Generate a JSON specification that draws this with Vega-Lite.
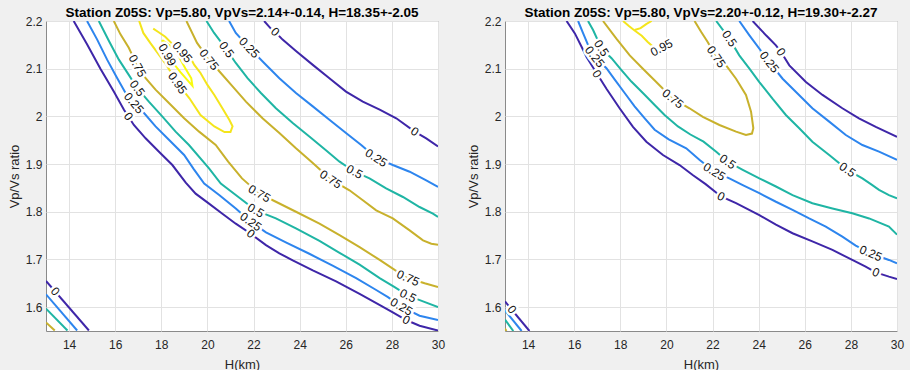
{
  "$schema": "https://vega.github.io/schema/vega-lite/v6.json",
  "background": "#f0f0f0",
  "padding": {"left": 7, "top": 5, "right": 10, "bottom": 0},
  "spacing": 20,
  "config": {
    "font": "Liberation Sans",
    "view": {"stroke": "#8a8a8a", "fill": "white"},
    "axis": {"grid": true, "gridColor": "#e2e2e2", "gridWidth": 1, "domain": false, "ticks": false, "tickSize": 0, "labelFlush": false, "labelFontSize": 12, "labelColor": "#262626", "titleFontSize": 13, "titleFontWeight": "normal", "titleColor": "#262626", "labelFont": "Liberation Sans", "titleFont": "Liberation Sans"},
    "axisX": {"labelPadding": 8, "titlePadding": 8},
    "axisY": {"labelPadding": 4, "titlePadding": 4},
    "title": {"fontSize": 13.5, "fontWeight": "bold", "color": "#000000", "frame": "group", "offset": -4, "font": "Liberation Sans"}
  },
  "datasets": {
    "left": [
      {"s":"a0","l":"0","o":0,"H":14.20,"v":2.200},{"s":"a0","l":"0","o":1,"H":14.78,"v":2.151},{"s":"a0","l":"0","o":2,"H":15.36,"v":2.100},{"s":"a0","l":"0","o":3,"H":15.94,"v":2.052},{"s":"a0","l":"0","o":4,"H":16.38,"v":2.014},{"s":"a0","l":"0","o":5,"H":16.81,"v":1.982},{"s":"a0","l":"0","o":6,"H":17.32,"v":1.954},{"s":"a0","l":"0","o":7,"H":17.90,"v":1.926},{"s":"a0","l":"0","o":8,"H":18.48,"v":1.898},{"s":"a0","l":"0","o":9,"H":19.06,"v":1.861},{"s":"a0","l":"0","o":10,"H":19.49,"v":1.838},{"s":"a0","l":"0","o":11,"H":20.07,"v":1.817},{"s":"a0","l":"0","o":12,"H":20.65,"v":1.796},{"s":"a0","l":"0","o":13,"H":21.23,"v":1.775},{"s":"a0","l":"0","o":14,"H":21.88,"v":1.754},{"s":"a0","l":"0","o":15,"H":22.54,"v":1.730},{"s":"a0","l":"0","o":16,"H":23.12,"v":1.713},{"s":"a0","l":"0","o":17,"H":23.70,"v":1.698},{"s":"a0","l":"0","o":18,"H":24.57,"v":1.677},{"s":"a0","l":"0","o":19,"H":25.58,"v":1.654},{"s":"a0","l":"0","o":20,"H":26.60,"v":1.628},{"s":"a0","l":"0","o":21,"H":27.46,"v":1.605},{"s":"a0","l":"0","o":22,"H":28.04,"v":1.589},{"s":"a0","l":"0","o":23,"H":28.62,"v":1.573},{"s":"a0","l":"0","o":24,"H":29.20,"v":1.561},{"s":"a0","l":"0","o":25,"H":30.00,"v":1.551},
      {"s":"a25","l":"0.25","o":0,"H":14.78,"v":2.200},{"s":"a25","l":"0.25","o":1,"H":15.22,"v":2.161},{"s":"a25","l":"0.25","o":2,"H":15.65,"v":2.119},{"s":"a25","l":"0.25","o":3,"H":16.09,"v":2.080},{"s":"a25","l":"0.25","o":4,"H":16.45,"v":2.049},{"s":"a25","l":"0.25","o":5,"H":16.81,"v":2.028},{"s":"a25","l":"0.25","o":6,"H":17.25,"v":2.007},{"s":"a25","l":"0.25","o":7,"H":17.75,"v":1.979},{"s":"a25","l":"0.25","o":8,"H":18.33,"v":1.951},{"s":"a25","l":"0.25","o":9,"H":18.99,"v":1.919},{"s":"a25","l":"0.25","o":10,"H":19.40,"v":1.890},{"s":"a25","l":"0.25","o":11,"H":19.86,"v":1.859},{"s":"a25","l":"0.25","o":12,"H":20.51,"v":1.835},{"s":"a25","l":"0.25","o":13,"H":21.23,"v":1.807},{"s":"a25","l":"0.25","o":14,"H":21.88,"v":1.779},{"s":"a25","l":"0.25","o":15,"H":22.54,"v":1.757},{"s":"a25","l":"0.25","o":16,"H":23.40,"v":1.736},{"s":"a25","l":"0.25","o":17,"H":24.42,"v":1.712},{"s":"a25","l":"0.25","o":18,"H":25.43,"v":1.687},{"s":"a25","l":"0.25","o":19,"H":26.45,"v":1.661},{"s":"a25","l":"0.25","o":20,"H":27.32,"v":1.636},{"s":"a25","l":"0.25","o":21,"H":27.83,"v":1.621},{"s":"a25","l":"0.25","o":22,"H":28.41,"v":1.601},{"s":"a25","l":"0.25","o":23,"H":29.20,"v":1.582},{"s":"a25","l":"0.25","o":24,"H":30.00,"v":1.573},
      {"s":"a50","l":"0.5","o":0,"H":15.29,"v":2.200},{"s":"a50","l":"0.5","o":1,"H":15.73,"v":2.158},{"s":"a50","l":"0.5","o":2,"H":16.16,"v":2.119},{"s":"a50","l":"0.5","o":3,"H":16.59,"v":2.087},{"s":"a50","l":"0.5","o":4,"H":16.96,"v":2.059},{"s":"a50","l":"0.5","o":5,"H":17.46,"v":2.031},{"s":"a50","l":"0.5","o":6,"H":18.04,"v":2.000},{"s":"a50","l":"0.5","o":7,"H":18.62,"v":1.968},{"s":"a50","l":"0.5","o":8,"H":19.20,"v":1.940},{"s":"a50","l":"0.5","o":9,"H":20.07,"v":1.891},{"s":"a50","l":"0.5","o":10,"H":20.58,"v":1.859},{"s":"a50","l":"0.5","o":11,"H":21.23,"v":1.835},{"s":"a50","l":"0.5","o":12,"H":22.10,"v":1.803},{"s":"a50","l":"0.5","o":13,"H":22.97,"v":1.786},{"s":"a50","l":"0.5","o":14,"H":23.84,"v":1.765},{"s":"a50","l":"0.5","o":15,"H":24.86,"v":1.739},{"s":"a50","l":"0.5","o":16,"H":25.73,"v":1.714},{"s":"a50","l":"0.5","o":17,"H":26.60,"v":1.689},{"s":"a50","l":"0.5","o":18,"H":27.47,"v":1.661},{"s":"a50","l":"0.5","o":19,"H":28.12,"v":1.642},{"s":"a50","l":"0.5","o":20,"H":28.70,"v":1.624},{"s":"a50","l":"0.5","o":21,"H":29.35,"v":1.612},{"s":"a50","l":"0.5","o":22,"H":30.00,"v":1.600},
      {"s":"a75","l":"0.75","o":0,"H":15.94,"v":2.200},{"s":"a75","l":"0.75","o":1,"H":16.23,"v":2.172},{"s":"a75","l":"0.75","o":2,"H":16.59,"v":2.144},{"s":"a75","l":"0.75","o":3,"H":16.96,"v":2.106},{"s":"a75","l":"0.75","o":4,"H":17.32,"v":2.080},{"s":"a75","l":"0.75","o":5,"H":17.75,"v":2.056},{"s":"a75","l":"0.75","o":6,"H":18.33,"v":2.028},{"s":"a75","l":"0.75","o":7,"H":18.99,"v":1.996},{"s":"a75","l":"0.75","o":8,"H":19.64,"v":1.968},{"s":"a75","l":"0.75","o":9,"H":20.36,"v":1.940},{"s":"a75","l":"0.75","o":10,"H":20.90,"v":1.905},{"s":"a75","l":"0.75","o":11,"H":21.50,"v":1.870},{"s":"a75","l":"0.75","o":12,"H":22.25,"v":1.838},{"s":"a75","l":"0.75","o":13,"H":22.97,"v":1.821},{"s":"a75","l":"0.75","o":14,"H":23.84,"v":1.800},{"s":"a75","l":"0.75","o":15,"H":24.86,"v":1.775},{"s":"a75","l":"0.75","o":16,"H":25.73,"v":1.751},{"s":"a75","l":"0.75","o":17,"H":26.60,"v":1.726},{"s":"a75","l":"0.75","o":18,"H":27.47,"v":1.699},{"s":"a75","l":"0.75","o":19,"H":28.12,"v":1.678},{"s":"a75","l":"0.75","o":20,"H":28.70,"v":1.661},{"s":"a75","l":"0.75","o":21,"H":29.42,"v":1.650},{"s":"a75","l":"0.75","o":22,"H":30.00,"v":1.642},
      {"s":"b75","l":"0.75","o":0,"H":19.09,"v":2.200},{"s":"b75","l":"0.75","o":1,"H":19.55,"v":2.154},{"s":"b75","l":"0.75","o":2,"H":20.07,"v":2.119},{"s":"b75","l":"0.75","o":3,"H":20.58,"v":2.091},{"s":"b75","l":"0.75","o":4,"H":21.09,"v":2.063},{"s":"b75","l":"0.75","o":5,"H":21.67,"v":2.031},{"s":"b75","l":"0.75","o":6,"H":22.39,"v":1.996},{"s":"b75","l":"0.75","o":7,"H":23.12,"v":1.965},{"s":"b75","l":"0.75","o":8,"H":23.84,"v":1.933},{"s":"b75","l":"0.75","o":9,"H":24.57,"v":1.902},{"s":"b75","l":"0.75","o":10,"H":25.35,"v":1.868},{"s":"b75","l":"0.75","o":11,"H":26.16,"v":1.845},{"s":"b75","l":"0.75","o":12,"H":26.74,"v":1.824},{"s":"b75","l":"0.75","o":13,"H":27.32,"v":1.803},{"s":"b75","l":"0.75","o":14,"H":28.04,"v":1.786},{"s":"b75","l":"0.75","o":15,"H":28.77,"v":1.761},{"s":"b75","l":"0.75","o":16,"H":29.35,"v":1.740},{"s":"b75","l":"0.75","o":17,"H":29.71,"v":1.733},{"s":"b75","l":"0.75","o":18,"H":30.00,"v":1.731},
      {"s":"b50","l":"0.5","o":0,"H":19.96,"v":2.200},{"s":"b50","l":"0.5","o":1,"H":20.29,"v":2.175},{"s":"b50","l":"0.5","o":2,"H":20.51,"v":2.161},{"s":"b50","l":"0.5","o":3,"H":20.83,"v":2.140},{"s":"b50","l":"0.5","o":4,"H":21.23,"v":2.112},{"s":"b50","l":"0.5","o":5,"H":21.74,"v":2.080},{"s":"b50","l":"0.5","o":6,"H":22.32,"v":2.049},{"s":"b50","l":"0.5","o":7,"H":22.97,"v":2.017},{"s":"b50","l":"0.5","o":8,"H":23.70,"v":1.986},{"s":"b50","l":"0.5","o":9,"H":24.42,"v":1.958},{"s":"b50","l":"0.5","o":10,"H":25.14,"v":1.929},{"s":"b50","l":"0.5","o":11,"H":25.73,"v":1.905},{"s":"b50","l":"0.5","o":12,"H":26.38,"v":1.884},{"s":"b50","l":"0.5","o":13,"H":27.03,"v":1.870},{"s":"b50","l":"0.5","o":14,"H":27.75,"v":1.849},{"s":"b50","l":"0.5","o":15,"H":28.48,"v":1.831},{"s":"b50","l":"0.5","o":16,"H":29.20,"v":1.810},{"s":"b50","l":"0.5","o":17,"H":29.78,"v":1.796},{"s":"b50","l":"0.5","o":18,"H":30.00,"v":1.789},
      {"s":"b25","l":"0.25","o":0,"H":20.94,"v":2.200},{"s":"b25","l":"0.25","o":1,"H":21.23,"v":2.175},{"s":"b25","l":"0.25","o":2,"H":21.81,"v":2.144},{"s":"b25","l":"0.25","o":3,"H":22.46,"v":2.112},{"s":"b25","l":"0.25","o":4,"H":23.12,"v":2.080},{"s":"b25","l":"0.25","o":5,"H":23.84,"v":2.049},{"s":"b25","l":"0.25","o":6,"H":24.57,"v":2.021},{"s":"b25","l":"0.25","o":7,"H":25.29,"v":1.993},{"s":"b25","l":"0.25","o":8,"H":26.01,"v":1.965},{"s":"b25","l":"0.25","o":9,"H":26.67,"v":1.940},{"s":"b25","l":"0.25","o":10,"H":27.32,"v":1.913},{"s":"b25","l":"0.25","o":11,"H":28.04,"v":1.898},{"s":"b25","l":"0.25","o":12,"H":28.77,"v":1.884},{"s":"b25","l":"0.25","o":13,"H":29.49,"v":1.866},{"s":"b25","l":"0.25","o":14,"H":30.00,"v":1.852},
      {"s":"b0","l":"0","o":0,"H":22.46,"v":2.200},{"s":"b0","l":"0","o":1,"H":22.75,"v":2.184},{"s":"b0","l":"0","o":2,"H":22.94,"v":2.177},{"s":"b0","l":"0","o":3,"H":23.26,"v":2.161},{"s":"b0","l":"0","o":4,"H":23.84,"v":2.137},{"s":"b0","l":"0","o":5,"H":24.57,"v":2.108},{"s":"b0","l":"0","o":6,"H":25.29,"v":2.080},{"s":"b0","l":"0","o":7,"H":26.01,"v":2.052},{"s":"b0","l":"0","o":8,"H":26.74,"v":2.031},{"s":"b0","l":"0","o":9,"H":27.47,"v":2.014},{"s":"b0","l":"0","o":10,"H":28.19,"v":1.996},{"s":"b0","l":"0","o":11,"H":28.99,"v":1.968},{"s":"b0","l":"0","o":12,"H":29.49,"v":1.954},{"s":"b0","l":"0","o":13,"H":30.00,"v":1.937},
      {"s":"c0","l":"0","o":0,"H":13.00,"v":1.655},{"s":"c0","l":"0","o":1,"H":14.86,"v":1.551},
      {"s":"c25","l":"0.25","o":0,"H":13.00,"v":1.627},{"s":"c25","l":"0.25","o":1,"H":14.35,"v":1.551},
      {"s":"c50","l":"0.5","o":0,"H":13.00,"v":1.597},{"s":"c50","l":"0.5","o":1,"H":13.93,"v":1.551},
      {"s":"c75","l":"0.75","o":0,"H":13.00,"v":1.568},{"s":"c75","l":"0.75","o":1,"H":13.38,"v":1.551},
      {"s":"y95","l":"0.95","o":0,"H":17.04,"v":2.200},{"s":"y95","l":"0.95","o":1,"H":17.22,"v":2.175},{"s":"y95","l":"0.95","o":2,"H":17.52,"v":2.154},{"s":"y95","l":"0.95","o":3,"H":17.87,"v":2.131},{"s":"y95","l":"0.95","o":4,"H":18.22,"v":2.108},{"s":"y95","l":"0.95","o":5,"H":18.70,"v":2.070},{"s":"y95","l":"0.95","o":6,"H":19.22,"v":2.038},{"s":"y95","l":"0.95","o":7,"H":19.70,"v":2.003},{"s":"y95","l":"0.95","o":8,"H":20.30,"v":1.979},{"s":"y95","l":"0.95","o":9,"H":20.74,"v":1.967},{"s":"y95","l":"0.95","o":10,"H":21.00,"v":1.967},{"s":"y95","l":"0.95","o":11,"H":21.09,"v":1.979},{"s":"y95","l":"0.95","o":12,"H":20.96,"v":1.992},{"s":"y95","l":"0.95","o":13,"H":20.65,"v":2.017},{"s":"y95","l":"0.95","o":14,"H":20.30,"v":2.045},{"s":"y95","l":"0.95","o":15,"H":20.00,"v":2.066},{"s":"y95","l":"0.95","o":16,"H":19.70,"v":2.091},{"s":"y95","l":"0.95","o":17,"H":19.43,"v":2.108},{"s":"y95","l":"0.95","o":18,"H":19.26,"v":2.123},{"s":"y95","l":"0.95","o":19,"H":18.91,"v":2.135},{"s":"y95","l":"0.95","o":20,"H":18.52,"v":2.150},{"s":"y95","l":"0.95","o":21,"H":18.17,"v":2.167},{"s":"y95","l":"0.95","o":22,"H":17.87,"v":2.177},{"s":"y95","l":"0.95","o":23,"H":17.65,"v":2.184},
      {"s":"y99","l":"0.99","o":0,"H":18.04,"v":2.160},{"s":"y99","l":"0.99","o":1,"H":18.17,"v":2.139},{"s":"y99","l":"0.99","o":2,"H":18.48,"v":2.114},{"s":"y99","l":"0.99","o":3,"H":18.83,"v":2.093},{"s":"y99","l":"0.99","o":4,"H":19.17,"v":2.074},{"s":"y99","l":"0.99","o":5,"H":19.35,"v":2.064},{"s":"y99","l":"0.99","o":6,"H":19.30,"v":2.080},{"s":"y99","l":"0.99","o":7,"H":19.04,"v":2.101},{"s":"y99","l":"0.99","o":8,"H":18.74,"v":2.127},{"s":"y99","l":"0.99","o":9,"H":18.39,"v":2.148},{"s":"y99","l":"0.99","o":10,"H":18.04,"v":2.160}
    ],
    "leftLab": [
      {"t":"0.75","H":16.96,"v":2.106,"a":61},{"t":"0.5","H":16.96,"v":2.059,"a":53},{"t":"0.25","H":16.81,"v":2.028,"a":50},{"t":"0","H":16.57,"v":2.000,"a":55},
      {"t":"0.99","H":18.26,"v":2.129,"a":60},{"t":"0.95","H":18.70,"v":2.070,"a":55},{"t":"0.95","H":18.91,"v":2.135,"a":50},
      {"t":"0.75","H":20.07,"v":2.119,"a":52},{"t":"0.5","H":20.83,"v":2.140,"a":54},{"t":"0.25","H":21.81,"v":2.144,"a":47},{"t":"0","H":22.94,"v":2.177,"a":43},
      {"t":"0.75","H":25.35,"v":1.868,"a":33},{"t":"0.5","H":26.38,"v":1.884,"a":29},{"t":"0.25","H":27.32,"v":1.913,"a":32},{"t":"0","H":28.99,"v":1.968,"a":34},
      {"t":"0.75","H":22.25,"v":1.838,"a":30},{"t":"0.5","H":22.10,"v":1.803,"a":30},{"t":"0.25","H":21.88,"v":1.779,"a":35},{"t":"0","H":21.88,"v":1.754,"a":38},
      {"t":"0.75","H":28.70,"v":1.661,"a":24},{"t":"0.5","H":28.70,"v":1.624,"a":26},{"t":"0.25","H":28.41,"v":1.601,"a":30},{"t":"0","H":28.62,"v":1.573,"a":27},
      {"t":"0","H":13.40,"v":1.633,"a":49}
    ],
    "right": [
      {"s":"a0","l":"0","o":0,"H":15.67,"v":2.200},{"s":"a0","l":"0","o":1,"H":16.03,"v":2.174},{"s":"a0","l":"0","o":2,"H":16.32,"v":2.146},{"s":"a0","l":"0","o":3,"H":16.53,"v":2.125},{"s":"a0","l":"0","o":4,"H":16.97,"v":2.091},{"s":"a0","l":"0","o":5,"H":17.40,"v":2.058},{"s":"a0","l":"0","o":6,"H":17.97,"v":2.017},{"s":"a0","l":"0","o":7,"H":18.55,"v":1.978},{"s":"a0","l":"0","o":8,"H":19.13,"v":1.947},{"s":"a0","l":"0","o":9,"H":19.85,"v":1.919},{"s":"a0","l":"0","o":10,"H":20.57,"v":1.898},{"s":"a0","l":"0","o":11,"H":21.14,"v":1.877},{"s":"a0","l":"0","o":12,"H":21.70,"v":1.858},{"s":"a0","l":"0","o":13,"H":22.37,"v":1.832},{"s":"a0","l":"0","o":14,"H":23.02,"v":1.818},{"s":"a0","l":"0","o":15,"H":24.03,"v":1.793},{"s":"a0","l":"0","o":16,"H":24.75,"v":1.773},{"s":"a0","l":"0","o":17,"H":25.47,"v":1.755},{"s":"a0","l":"0","o":18,"H":26.33,"v":1.738},{"s":"a0","l":"0","o":19,"H":27.20,"v":1.720},{"s":"a0","l":"0","o":20,"H":28.06,"v":1.699},{"s":"a0","l":"0","o":21,"H":28.64,"v":1.685},{"s":"a0","l":"0","o":22,"H":29.08,"v":1.673},{"s":"a0","l":"0","o":23,"H":29.65,"v":1.664},{"s":"a0","l":"0","o":24,"H":30.00,"v":1.659},
      {"s":"a25","l":"0.25","o":0,"H":16.17,"v":2.200},{"s":"a25","l":"0.25","o":1,"H":16.39,"v":2.174},{"s":"a25","l":"0.25","o":2,"H":16.60,"v":2.150},{"s":"a25","l":"0.25","o":3,"H":16.89,"v":2.125},{"s":"a25","l":"0.25","o":4,"H":17.40,"v":2.101},{"s":"a25","l":"0.25","o":5,"H":17.76,"v":2.077},{"s":"a25","l":"0.25","o":6,"H":18.19,"v":2.049},{"s":"a25","l":"0.25","o":7,"H":18.62,"v":2.021},{"s":"a25","l":"0.25","o":8,"H":19.06,"v":1.996},{"s":"a25","l":"0.25","o":9,"H":19.49,"v":1.972},{"s":"a25","l":"0.25","o":10,"H":20.10,"v":1.952},{"s":"a25","l":"0.25","o":11,"H":20.86,"v":1.933},{"s":"a25","l":"0.25","o":12,"H":21.43,"v":1.909},{"s":"a25","l":"0.25","o":13,"H":22.08,"v":1.884},{"s":"a25","l":"0.25","o":14,"H":22.73,"v":1.870},{"s":"a25","l":"0.25","o":15,"H":23.31,"v":1.856},{"s":"a25","l":"0.25","o":16,"H":24.03,"v":1.839},{"s":"a25","l":"0.25","o":17,"H":24.75,"v":1.821},{"s":"a25","l":"0.25","o":18,"H":25.47,"v":1.804},{"s":"a25","l":"0.25","o":19,"H":26.19,"v":1.786},{"s":"a25","l":"0.25","o":20,"H":26.91,"v":1.769},{"s":"a25","l":"0.25","o":21,"H":27.63,"v":1.748},{"s":"a25","l":"0.25","o":22,"H":28.21,"v":1.729},{"s":"a25","l":"0.25","o":23,"H":28.86,"v":1.713},{"s":"a25","l":"0.25","o":24,"H":29.65,"v":1.699},{"s":"a25","l":"0.25","o":25,"H":30.00,"v":1.692},
      {"s":"a50","l":"0.5","o":0,"H":16.60,"v":2.200},{"s":"a50","l":"0.5","o":1,"H":16.82,"v":2.181},{"s":"a50","l":"0.5","o":2,"H":17.18,"v":2.143},{"s":"a50","l":"0.5","o":3,"H":17.62,"v":2.122},{"s":"a50","l":"0.5","o":4,"H":18.05,"v":2.097},{"s":"a50","l":"0.5","o":5,"H":18.48,"v":2.073},{"s":"a50","l":"0.5","o":6,"H":18.98,"v":2.049},{"s":"a50","l":"0.5","o":7,"H":19.49,"v":2.024},{"s":"a50","l":"0.5","o":8,"H":19.92,"v":2.003},{"s":"a50","l":"0.5","o":9,"H":20.50,"v":1.979},{"s":"a50","l":"0.5","o":10,"H":21.04,"v":1.962},{"s":"a50","l":"0.5","o":11,"H":21.61,"v":1.947},{"s":"a50","l":"0.5","o":12,"H":22.16,"v":1.926},{"s":"a50","l":"0.5","o":13,"H":22.66,"v":1.905},{"s":"a50","l":"0.5","o":14,"H":23.31,"v":1.888},{"s":"a50","l":"0.5","o":15,"H":24.03,"v":1.870},{"s":"a50","l":"0.5","o":16,"H":24.75,"v":1.853},{"s":"a50","l":"0.5","o":17,"H":25.47,"v":1.835},{"s":"a50","l":"0.5","o":18,"H":26.33,"v":1.818},{"s":"a50","l":"0.5","o":19,"H":27.20,"v":1.807},{"s":"a50","l":"0.5","o":20,"H":28.06,"v":1.797},{"s":"a50","l":"0.5","o":21,"H":28.79,"v":1.786},{"s":"a50","l":"0.5","o":22,"H":29.65,"v":1.769},{"s":"a50","l":"0.5","o":23,"H":30.00,"v":1.752},
      {"s":"b75","l":"0.75","o":0,"H":17.25,"v":2.200},{"s":"b75","l":"0.75","o":1,"H":17.83,"v":2.163},{"s":"b75","l":"0.75","o":2,"H":18.41,"v":2.128},{"s":"b75","l":"0.75","o":3,"H":18.98,"v":2.100},{"s":"b75","l":"0.75","o":4,"H":19.56,"v":2.072},{"s":"b75","l":"0.75","o":5,"H":20.28,"v":2.037},{"s":"b75","l":"0.75","o":6,"H":21.00,"v":2.017},{"s":"b75","l":"0.75","o":7,"H":21.58,"v":1.999},{"s":"b75","l":"0.75","o":8,"H":22.30,"v":1.982},{"s":"b75","l":"0.75","o":9,"H":23.02,"v":1.968},{"s":"b75","l":"0.75","o":10,"H":23.45,"v":1.961},{"s":"b75","l":"0.75","o":11,"H":23.71,"v":1.964},{"s":"b75","l":"0.75","o":12,"H":23.77,"v":1.975},{"s":"b75","l":"0.75","o":13,"H":23.67,"v":2.010},{"s":"b75","l":"0.75","o":14,"H":23.45,"v":2.045},{"s":"b75","l":"0.75","o":15,"H":23.02,"v":2.079},{"s":"b75","l":"0.75","o":16,"H":22.59,"v":2.107},{"s":"b75","l":"0.75","o":17,"H":22.16,"v":2.125},{"s":"b75","l":"0.75","o":18,"H":21.79,"v":2.156},{"s":"b75","l":"0.75","o":19,"H":21.51,"v":2.177},{"s":"b75","l":"0.75","o":20,"H":21.22,"v":2.200},
      {"s":"y95","l":"0.95","o":0,"H":18.12,"v":2.200},{"s":"y95","l":"0.95","o":1,"H":18.36,"v":2.190},{"s":"y95","l":"0.95","o":2,"H":18.62,"v":2.180},{"s":"y95","l":"0.95","o":3,"H":18.93,"v":2.169},{"s":"y95","l":"0.95","o":4,"H":19.19,"v":2.156},{"s":"y95","l":"0.95","o":5,"H":19.40,"v":2.147},
      {"s":"y95b","l":"0.95","o":0,"H":18.62,"v":2.181},{"s":"y95b","l":"0.95","o":1,"H":18.88,"v":2.185},{"s":"y95b","l":"0.95","o":2,"H":19.14,"v":2.194},{"s":"y95b","l":"0.95","o":3,"H":19.36,"v":2.200},
      {"s":"b50","l":"0.5","o":0,"H":22.16,"v":2.200},{"s":"b50","l":"0.5","o":1,"H":22.73,"v":2.163},{"s":"b50","l":"0.5","o":2,"H":23.16,"v":2.128},{"s":"b50","l":"0.5","o":3,"H":23.60,"v":2.100},{"s":"b50","l":"0.5","o":4,"H":24.03,"v":2.072},{"s":"b50","l":"0.5","o":5,"H":24.60,"v":2.037},{"s":"b50","l":"0.5","o":6,"H":25.18,"v":2.003},{"s":"b50","l":"0.5","o":7,"H":25.76,"v":1.975},{"s":"b50","l":"0.5","o":8,"H":26.33,"v":1.947},{"s":"b50","l":"0.5","o":9,"H":27.06,"v":1.919},{"s":"b50","l":"0.5","o":10,"H":27.85,"v":1.888},{"s":"b50","l":"0.5","o":11,"H":28.50,"v":1.870},{"s":"b50","l":"0.5","o":12,"H":28.93,"v":1.856},{"s":"b50","l":"0.5","o":13,"H":29.22,"v":1.846},{"s":"b50","l":"0.5","o":14,"H":29.65,"v":1.835},{"s":"b50","l":"0.5","o":15,"H":30.00,"v":1.828},
      {"s":"b25","l":"0.25","o":0,"H":23.16,"v":2.200},{"s":"b25","l":"0.25","o":1,"H":23.60,"v":2.170},{"s":"b25","l":"0.25","o":2,"H":24.46,"v":2.114},{"s":"b25","l":"0.25","o":3,"H":25.04,"v":2.079},{"s":"b25","l":"0.25","o":4,"H":25.62,"v":2.051},{"s":"b25","l":"0.25","o":5,"H":26.33,"v":2.017},{"s":"b25","l":"0.25","o":6,"H":27.06,"v":1.989},{"s":"b25","l":"0.25","o":7,"H":27.78,"v":1.961},{"s":"b25","l":"0.25","o":8,"H":28.50,"v":1.940},{"s":"b25","l":"0.25","o":9,"H":29.22,"v":1.926},{"s":"b25","l":"0.25","o":10,"H":30.00,"v":1.909},
      {"s":"b0","l":"0","o":0,"H":23.74,"v":2.200},{"s":"b0","l":"0","o":1,"H":24.32,"v":2.170},{"s":"b0","l":"0","o":2,"H":24.75,"v":2.149},{"s":"b0","l":"0","o":3,"H":24.97,"v":2.135},{"s":"b0","l":"0","o":4,"H":25.33,"v":2.107},{"s":"b0","l":"0","o":5,"H":26.05,"v":2.072},{"s":"b0","l":"0","o":6,"H":26.77,"v":2.045},{"s":"b0","l":"0","o":7,"H":27.63,"v":2.017},{"s":"b0","l":"0","o":8,"H":28.35,"v":1.996},{"s":"b0","l":"0","o":9,"H":29.08,"v":1.978},{"s":"b0","l":"0","o":10,"H":30.00,"v":1.957},
      {"s":"c0","l":"0","o":0,"H":13.00,"v":1.612},{"s":"c0","l":"0","o":1,"H":14.06,"v":1.550},
      {"s":"c25","l":"0.25","o":0,"H":13.00,"v":1.593},{"s":"c25","l":"0.25","o":1,"H":13.72,"v":1.550},
      {"s":"c50","l":"0.5","o":0,"H":13.00,"v":1.574},{"s":"c50","l":"0.5","o":1,"H":13.36,"v":1.550},
      {"s":"c75","l":"0.75","o":0,"H":13.00,"v":1.555},{"s":"c75","l":"0.75","o":1,"H":13.06,"v":1.550}
    ],
    "rightLab": [
      {"t":"0","H":16.99,"v":2.089,"a":58},{"t":"0.25","H":16.89,"v":2.125,"a":52},{"t":"0.5","H":17.18,"v":2.143,"a":57},
      {"t":"0.75","H":20.28,"v":2.037,"a":39},{"t":"0.75","H":22.16,"v":2.125,"a":55},{"t":"0.95","H":19.79,"v":2.144,"a":-28},
      {"t":"0.5","H":22.73,"v":2.163,"a":56},{"t":"0.25","H":24.46,"v":2.114,"a":52},{"t":"0","H":24.97,"v":2.135,"a":56},
      {"t":"0.5","H":27.85,"v":1.888,"a":35},{"t":"0.5","H":22.66,"v":1.905,"a":35},{"t":"0.25","H":22.08,"v":1.884,"a":32},{"t":"0","H":22.37,"v":1.832,"a":27},
      {"t":"0.25","H":28.86,"v":1.713,"a":23},{"t":"0","H":29.08,"v":1.673,"a":23},{"t":"0","H":13.30,"v":1.595,"a":50}
    ]
  },
  "hconcat": [
    {
      "title": {"text": "Station Z05S: Vp=5.80, VpVs=2.14+-0.14, H=18.35+-2.05"},
      "width": 392, "height": 310,
      "encoding": {
        "x": {"field": "H", "type": "quantitative", "scale": {"domain": [13, 30], "nice": false, "zero": false}, "axis": {"values": [14,16,18,20,22,24,26,28,30], "title": "H(km)"}},
        "y": {"field": "v", "type": "quantitative", "scale": {"domain": [1.55, 2.2], "nice": false, "zero": false}, "axis": {"values": [1.6,1.7,1.8,1.9,2.0,2.1,2.2], "format": "~g", "title": "Vp/Vs ratio"}}
      },
      "layer": [
        {"data": {"name": "left"}, "mark": {"type": "line", "strokeWidth": 2, "clip": true},
         "encoding": {"color": {"field": "l", "type": "nominal", "legend": null, "scale": {"domain": ["0","0.25","0.5","0.75","0.95","0.99"], "range": ["#3e26a8","#2d85ee","#1fb5a4","#c8b12c","#f4e51c","#f9fb0e"]}}, "detail": {"field": "s"}, "order": {"field": "o", "type": "quantitative"}}},
        {"data": {"name": "leftLab"}, "mark": {"type": "text", "stroke": "white", "strokeWidth": 5, "fill": "white", "fontSize": 12, "align": "center", "baseline": "middle"},
         "encoding": {"text": {"field": "t"}, "angle": {"field": "a", "type": "quantitative", "scale": null}}},
        {"data": {"name": "leftLab"}, "mark": {"type": "text", "fill": "#111111", "fontSize": 12, "align": "center", "baseline": "middle"},
         "encoding": {"text": {"field": "t"}, "angle": {"field": "a", "type": "quantitative", "scale": null}}}
      ]
    },
    {
      "title": {"text": "Station Z05S: Vp=5.80, VpVs=2.20+-0.12, H=19.30+-2.27"},
      "width": 392, "height": 310,
      "encoding": {
        "x": {"field": "H", "type": "quantitative", "scale": {"domain": [13, 30], "nice": false, "zero": false}, "axis": {"values": [14,16,18,20,22,24,26,28,30], "title": "H(km)"}},
        "y": {"field": "v", "type": "quantitative", "scale": {"domain": [1.55, 2.2], "nice": false, "zero": false}, "axis": {"values": [1.6,1.7,1.8,1.9,2.0,2.1,2.2], "format": "~g", "title": "Vp/Vs ratio"}}
      },
      "layer": [
        {"data": {"name": "right"}, "mark": {"type": "line", "strokeWidth": 2, "clip": true},
         "encoding": {"color": {"field": "l", "type": "nominal", "legend": null, "scale": {"domain": ["0","0.25","0.5","0.75","0.95","0.99"], "range": ["#3e26a8","#2d85ee","#1fb5a4","#c8b12c","#f4e51c","#f9fb0e"]}}, "detail": {"field": "s"}, "order": {"field": "o", "type": "quantitative"}}},
        {"data": {"name": "rightLab"}, "mark": {"type": "text", "stroke": "white", "strokeWidth": 5, "fill": "white", "fontSize": 12, "align": "center", "baseline": "middle"},
         "encoding": {"text": {"field": "t"}, "angle": {"field": "a", "type": "quantitative", "scale": null}}},
        {"data": {"name": "rightLab"}, "mark": {"type": "text", "fill": "#111111", "fontSize": 12, "align": "center", "baseline": "middle"},
         "encoding": {"text": {"field": "t"}, "angle": {"field": "a", "type": "quantitative", "scale": null}}}
      ]
    }
  ]
}
